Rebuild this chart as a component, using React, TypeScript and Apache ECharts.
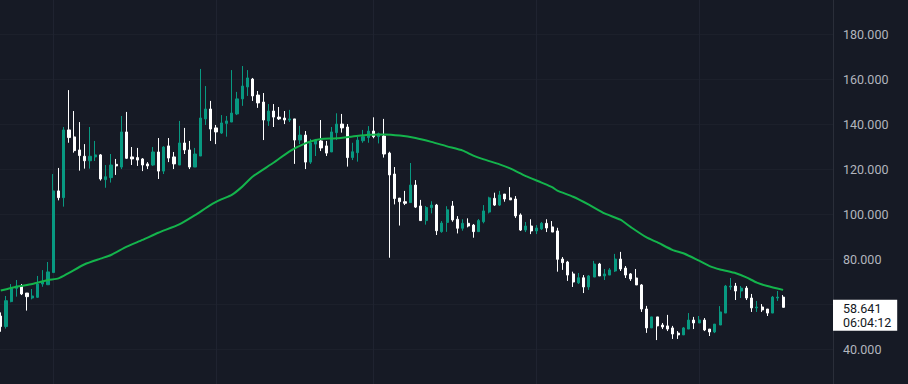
import React, { useEffect, useRef } from "react";
import * as echarts from "echarts";

// [open, close, low, high] per daily candle
const candles: number[][] = [
  [54.8, 50.1, 47.8, 56.4], [50.1, 61.6, 49.2, 63.7], [61.2, 67.1, 60.9, 69.0], [67.1, 68.1, 63.4, 70.8],
  [68.1, 64.6, 64.1, 69.0], [65.0, 63.4, 57.2, 65.0], [62.8, 63.7, 62.2, 66.8], [63.1, 69.0, 62.8, 72.6],
  [69.0, 70.1, 67.8, 75.2], [68.7, 74.4, 68.7, 78.8], [74.1, 110.4, 74.1, 117.9], [110.4, 107.4, 106.2, 120.6],
  [107.4, 137.5, 103.4, 138.8], [137.5, 134.1, 131.8, 155.2], [134.4, 128.3, 127.4, 145.9], [128.6, 126.1, 119.4, 141.0],
  [125.8, 123.8, 120.3, 131.2], [123.8, 125.8, 120.3, 138.8], [125.5, 126.4, 123.7, 132.6], [126.4, 115.7, 115.0, 126.8],
  [115.4, 116.7, 111.8, 121.9], [116.3, 121.9, 114.1, 126.8], [122.2, 121.5, 117.5, 124.6], [121.0, 136.6, 120.1, 143.7],
  [136.6, 124.9, 124.6, 145.5], [125.5, 124.6, 121.9, 129.9], [125.2, 124.1, 121.5, 129.5], [124.6, 121.9, 119.2, 125.0],
  [122.4, 121.5, 120.1, 123.2], [121.9, 127.7, 121.5, 129.9], [127.7, 119.2, 115.7, 133.9], [119.2, 129.9, 117.9, 130.3],
  [130.4, 125.0, 123.2, 133.9], [125.5, 122.4, 120.1, 127.7], [121.9, 131.7, 121.9, 141.5], [131.7, 128.6, 126.8, 138.4],
  [128.6, 121.0, 120.1, 132.6], [121.0, 126.8, 121.0, 129.5], [125.9, 142.8, 125.9, 164.6], [142.4, 146.8, 139.7, 157.0],
  [146.8, 137.9, 132.6, 150.4], [138.4, 136.6, 131.2, 139.7], [136.1, 140.6, 135.7, 144.1], [140.4, 141.5, 134.5, 143.7],
  [141.0, 145.0, 141.0, 164.1], [144.6, 151.3, 144.1, 154.4], [151.3, 157.0, 148.2, 165.9], [156.6, 160.6, 152.6, 164.1],
  [160.1, 152.6, 150.4, 160.6], [153.0, 149.5, 147.3, 154.8], [149.9, 141.9, 133.0, 153.9], [141.5, 145.9, 139.3, 149.0],
  [145.9, 143.2, 138.8, 149.0], [143.2, 142.4, 141.9, 147.7], [142.8, 141.9, 140.1, 145.9], [141.9, 142.4, 141.0, 146.4],
  [142.4, 133.0, 122.4, 142.4], [133.0, 135.2, 131.2, 139.3], [135.2, 123.2, 120.1, 137.0], [123.2, 131.7, 122.4, 133.5],
  [131.2, 133.0, 125.9, 133.5], [132.6, 129.5, 128.1, 141.9], [130.4, 127.2, 125.9, 132.6], [127.7, 136.6, 127.7, 138.8],
  [136.3, 140.1, 133.0, 144.9], [140.1, 138.4, 136.3, 144.6], [138.8, 125.2, 121.2, 140.1], [125.2, 127.8, 124.1, 131.8],
  [127.4, 133.0, 123.4, 134.5], [132.7, 134.5, 131.8, 137.5], [134.1, 137.0, 131.8, 139.2], [137.0, 134.5, 133.8, 143.1],
  [134.5, 135.8, 131.5, 136.3], [134.8, 126.8, 125.2, 142.4], [127.2, 117.5, 80.7, 127.8], [117.9, 107.0, 104.4, 121.0],
  [107.2, 105.6, 95.0, 107.2], [105.6, 104.9, 104.1, 110.4], [105.2, 113.0, 105.2, 122.8], [113.0, 103.2, 102.8, 115.2],
  [103.7, 97.2, 97.2, 106.4], [97.2, 103.0, 95.4, 103.7], [103.0, 104.1, 100.4, 105.8], [104.1, 92.7, 90.8, 104.6],
  [92.3, 96.1, 91.8, 97.0], [96.4, 102.0, 92.2, 103.6], [103.7, 97.5, 96.7, 105.9], [97.8, 93.8, 91.5, 99.2],
  [93.8, 96.0, 92.7, 97.8], [96.0, 94.8, 94.2, 98.2], [95.2, 92.3, 89.6, 95.7], [92.3, 97.2, 92.3, 97.9],
  [96.7, 101.5, 96.0, 104.1], [101.0, 107.3, 100.4, 107.8], [107.1, 104.1, 103.7, 109.6], [104.1, 108.6, 103.7, 110.4],
  [109.0, 106.8, 105.6, 109.0], [107.3, 106.4, 106.4, 112.1], [106.8, 99.3, 98.4, 108.1], [99.7, 93.0, 92.6, 100.4],
  [93.0, 94.8, 92.1, 96.6], [94.8, 92.6, 91.2, 97.8], [92.6, 93.9, 91.2, 95.2], [93.5, 96.0, 93.0, 96.6],
  [96.0, 93.9, 92.1, 97.8], [94.4, 92.1, 92.1, 97.0], [92.6, 80.0, 74.5, 94.0], [80.1, 78.5, 75.3, 81.0],
  [78.8, 73.0, 70.4, 79.3], [73.5, 69.9, 67.7, 74.5], [69.5, 71.8, 69.0, 73.9], [71.8, 67.7, 65.0, 73.0],
  [67.7, 72.6, 66.4, 73.0], [72.1, 77.9, 72.1, 79.3], [77.9, 72.6, 72.6, 78.4], [72.6, 73.5, 70.8, 75.7],
  [73.0, 75.3, 73.0, 76.1], [74.8, 80.1, 74.4, 82.4], [80.1, 75.7, 74.8, 83.3], [76.1, 73.0, 71.7, 77.0],
  [73.5, 71.3, 70.4, 73.9], [71.7, 68.6, 68.6, 75.7], [68.6, 57.9, 56.6, 69.0], [57.9, 49.5, 47.3, 59.3],
  [49.5, 54.4, 49.5, 54.4], [54.4, 50.4, 44.1, 54.4], [50.8, 49.9, 49.0, 51.7], [50.4, 49.0, 48.1, 55.3],
  [49.5, 46.8, 44.6, 50.4], [47.2, 46.4, 44.6, 48.1], [46.4, 49.5, 46.4, 49.9], [49.0, 53.0, 49.0, 56.1],
  [53.0, 51.7, 49.0, 54.4], [51.7, 53.0, 51.7, 54.8], [53.0, 48.6, 48.1, 53.9], [49.0, 47.7, 45.9, 49.0],
  [47.7, 51.2, 47.2, 51.2], [50.8, 56.6, 50.8, 59.2], [56.1, 68.1, 56.1, 68.6], [67.7, 68.1, 66.4, 71.7],
  [68.1, 65.9, 61.9, 69.5], [65.9, 67.2, 62.8, 68.1], [67.2, 62.8, 61.9, 68.1], [62.8, 58.4, 56.6, 64.6],
  [58.4, 58.8, 56.6, 61.5], [58.8, 57.5, 56.6, 60.1], [57.9, 56.1, 54.8, 57.9], [56.1, 63.2, 56.1, 63.7],
  [62.8, 63.2, 61.5, 65.9], [63.2, 58.641, 58.641, 64.1],
];

// moving average: [candle index, value]
const maPoints: number[][] = [
  [0, 66.1], [3, 67.8], [6, 69.0], [9, 70.8], [11, 71.5], [13, 74.0], [16, 77.8], [19, 80.3],
  [21, 81.9], [24, 85.6], [27, 88.6], [30, 91.8], [34, 95.5], [37, 99.6], [40, 104.2], [42, 106.6],
  [44, 108.6], [46, 112.3], [48, 116.8], [52, 123.0], [55, 128.0], [58, 131.5], [60, 133.0], [61, 133.5],
  [64, 133.8], [67, 134.6], [70, 135.4], [73, 135.5], [76, 135.0], [79, 133.9], [82, 132.2], [85, 130.2],
  [88, 128.3], [90, 126.1], [92, 124.4], [95, 122.2], [97, 120.4], [100, 117.0], [103, 114.1], [105, 112.1],
  [106, 110.5], [109, 107.8], [112, 104.3], [115, 100.4], [118, 97.6], [120, 94.3], [123, 89.7], [125, 87.6],
  [128, 84.1], [130, 82.7], [133, 79.4], [135, 77.0], [137, 75.5], [140, 73.8], [142, 72.0], [144, 69.6],
  [146, 68.1], [149, 66.4],
];

const START_DATE = "2024-04-21";
const SLOT_COUNT = 159; // candles plus empty right margin
const countdown = "06:04:12";
const yTicks = { min: 20, max: 200, step: 20 };

const categories: string[] = (() => {
  const out: string[] = [];
  const d0 = new Date(START_DATE + "T00:00:00Z").getTime();
  for (let i = 0; i < SLOT_COUNT; i++) {
    out.push(new Date(d0 + i * 86400000).toISOString().slice(0, 10));
  }
  return out;
})();

const FONT = "Roboto, 'Noto Sans', sans-serif";
const BG = "#161a25";
const UP = "#089981";
const DOWN = "#ffffff";

export default function App() {
  const ref = useRef<HTMLDivElement>(null);
  useEffect(() => {
    document.body.style.margin = "0";
    document.body.style.background = BG;
    if (!ref.current) return;
    const chart = echarts.init(ref.current, null, { renderer: "svg" });
    const lastClose = candles[candles.length - 1][1];
    chart.setOption({
      animation: false,
      backgroundColor: BG,
      grid: {
        left: -1.9,
        right: 75,
        top: -10.7,
        bottom: -10.3,
        containLabel: false,
        outerBoundsMode: "none",
      },
      xAxis: {
        type: "category",
        data: categories,
        boundaryGap: true,
        axisLine: { show: false },
        axisTick: { show: false },
        axisLabel: { show: false },
        splitLine: {
          show: true,
          alignWithLabel: true,
          interval: (_i: number, v: string) => v.endsWith("-01"),
          lineStyle: { color: "#1f2330", width: 1 },
        },
      },
      yAxis: {
        type: "value",
        position: "right",
        min: yTicks.min,
        max: yTicks.max,
        interval: yTicks.step,
        axisLine: { show: true, lineStyle: { color: "#2a2e39", width: 1 } },
        axisTick: { show: false },
        axisLabel: {
          color: "#b2b5be",
          fontSize: 12.5,
          fontFamily: FONT,
          margin: 10,
          showMinLabel: false,
          showMaxLabel: false,
          // like the source app, a scale label that collides with the last-price tag is hidden
          formatter: (v: number) => (Math.abs(v - lastClose) < 8 ? "" : v.toFixed(3)),
        },
        splitLine: { show: true, lineStyle: { color: "#1c202b", width: 1 } },
      },
      series: [
        {
          type: "candlestick",
          data: candles,
          barWidth: 2.6,
          itemStyle: {
            color: UP,
            color0: DOWN,
            borderColor: UP,
            borderColor0: DOWN,
            borderWidth: 1,
          },
          markLine: {
            silent: true,
            symbol: ["none", "none"],
            lineStyle: { color: "rgba(0,0,0,0)", width: 0 },
            label: {
              show: true,
              position: "end",
              distance: 0,
              formatter: () => lastClose.toFixed(3) + "\n" + countdown,
              backgroundColor: "#ffffff",
              color: "#131722",
              fontSize: 12.5,
              lineHeight: 14,
              fontFamily: FONT,
              padding: [2, 6, 1, 10],
              offset: [0, 8],
              align: "left",
            },
            data: [{ yAxis: lastClose }],
          },
          z: 2,
        },
        {
          type: "line",
          data: maPoints,
          showSymbol: false,
          smooth: 0.2,
          lineStyle: { color: "#14b44c", width: 2 },
          z: 3,
        },
      ],
    });
    return () => chart.dispose();
  }, []);
  return <div ref={ref} style={{ width: 908, height: 384 }} />;
}
